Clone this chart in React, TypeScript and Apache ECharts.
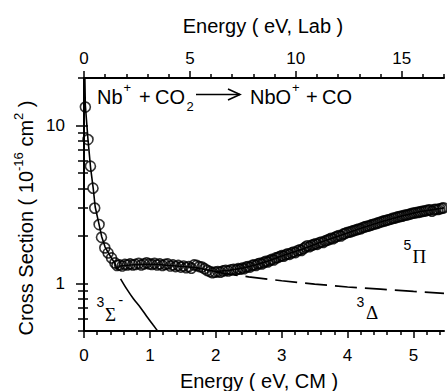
import React, { useEffect, useRef } from 'react';
import * as echarts from 'echarts';

// ---------- data ----------
const X_MAX_CM = 5.463; // bottom axis (eV, CM)
const X_MAX_LAB = 17; // top axis (eV, Lab)
const Y_MIN = 0.5;
const Y_MAX = 20;

const bottomMajor = [0, 1, 2, 3, 4, 5];
const bottomMinor = [0.2, 0.4, 0.6, 0.8, 1.2, 1.4, 1.6, 1.8, 2.2, 2.4, 2.6, 2.8, 3.2, 3.4, 3.6, 3.8, 4.2, 4.4, 4.6, 4.8, 5.2, 5.4];
const topMajor = [0, 5, 10, 15];
const topMinor = [1, 2, 3, 4, 6, 7, 8, 9, 11, 12, 13, 14, 16, 17];
const yMajor = [1, 10];
const yMinor = [0.5, 0.6, 0.7, 0.8, 0.9, 2, 3, 4, 5, 6, 7, 8, 9, 20];

// steep threshold region + plateau
const energyLow = [
  0.021, 0.061, 0.098, 0.137, 0.163, 0.229, 0.265, 0.316, 0.366, 0.418, 0.469,
  0.50, 0.54, 0.58, 0.62, 0.66, 0.70, 0.74, 0.78, 0.83, 0.87, 0.91, 0.95, 0.99,
  1.03, 1.07, 1.11, 1.15, 1.19, 1.23, 1.27, 1.31, 1.35, 1.39, 1.43, 1.47, 1.51,
  1.55, 1.59, 1.63, 1.67, 1.71, 1.75, 1.79, 1.83, 1.87, 1.91, 1.95, 1.99, 2.03,
  2.07, 2.11, 2.15, 2.19, 2.23, 2.27, 2.31, 2.34,
];
const sigmaLow = [
  13.1, 8.15, 5.53, 4.01, 3.0, 2.36, 1.96, 1.68, 1.56, 1.45, 1.35,
  1.30, 1.31, 1.29, 1.32, 1.31, 1.33, 1.31, 1.32, 1.34, 1.31, 1.33, 1.35, 1.33,
  1.32, 1.34, 1.31, 1.33, 1.30, 1.32, 1.33, 1.29, 1.31, 1.28, 1.30, 1.27, 1.29,
  1.26, 1.28, 1.25, 1.31, 1.30, 1.28, 1.27, 1.24, 1.21, 1.19, 1.17, 1.18, 1.19,
  1.18, 1.20, 1.21, 1.20, 1.22, 1.23, 1.22, 1.24,
];
// rising region
const energyHigh = [
  2.37, 2.40, 2.43, 2.46, 2.49, 2.52, 2.55, 2.58, 2.61, 2.64, 2.67, 2.70, 2.73,
  2.76, 2.79, 2.82, 2.85, 2.88, 2.91, 2.94, 2.97, 3.00, 3.03, 3.06, 3.09, 3.12,
  3.15, 3.18, 3.21, 3.24, 3.27, 3.30, 3.33, 3.36, 3.39, 3.42, 3.45, 3.48, 3.51,
  3.54, 3.57, 3.60, 3.63, 3.66, 3.69, 3.72, 3.75, 3.78, 3.81, 3.84, 3.87, 3.90,
  3.93, 3.96, 3.99, 4.02, 4.05, 4.08, 4.11, 4.14, 4.17, 4.20, 4.23, 4.26, 4.29,
  4.32, 4.35, 4.38, 4.41, 4.44, 4.47, 4.50, 4.53, 4.56, 4.59, 4.62, 4.65, 4.68,
  4.71, 4.74, 4.77, 4.80, 4.83, 4.86, 4.89, 4.92, 4.95, 4.98, 5.01, 5.04, 5.07,
  5.10, 5.13, 5.16, 5.19, 5.22, 5.25, 5.28, 5.31, 5.34, 5.37, 5.40, 5.43, 5.455,
];
const sigmaHigh = [
  1.23, 1.25, 1.24, 1.27, 1.28, 1.27, 1.30, 1.31, 1.30, 1.33, 1.34, 1.33, 1.36,
  1.38, 1.37, 1.40, 1.42, 1.41, 1.45, 1.46, 1.48, 1.50, 1.49, 1.52, 1.54, 1.53,
  1.56, 1.58, 1.57, 1.61, 1.63, 1.62, 1.66, 1.70, 1.73, 1.71, 1.74, 1.76, 1.78,
  1.77, 1.81, 1.83, 1.82, 1.86, 1.88, 1.90, 1.93, 1.92, 1.96, 1.99, 2.01, 2.00,
  2.05, 2.07, 2.10, 2.11, 2.13, 2.15, 2.17, 2.19, 2.21, 2.22, 2.26, 2.28, 2.30,
  2.31, 2.34, 2.36, 2.38, 2.40, 2.42, 2.45, 2.47, 2.49, 2.51, 2.53, 2.55, 2.58,
  2.59, 2.62, 2.64, 2.66, 2.67, 2.70, 2.71, 2.73, 2.75, 2.78, 2.79, 2.81, 2.82,
  2.84, 2.86, 2.87, 2.89, 2.91, 2.92, 2.87, 2.93, 2.95, 2.94, 2.97, 2.99, 3.01,
];

const fitX = [0.012, 0.02, 0.06, 0.10, 0.14, 0.17, 0.23, 0.27, 0.32, 0.37, 0.42, 0.47, 0.50, 0.55, 0.7, 0.9, 1.1, 1.3, 1.5, 1.7, 1.9, 2.0, 2.2, 2.4, 2.6, 2.8, 3.0, 3.3, 3.6, 3.9, 4.2, 4.5, 4.8, 5.1, 5.463];
const fitY = [21, 13.5, 8.2, 5.4, 4.0, 3.05, 2.35, 1.97, 1.7, 1.56, 1.44, 1.34, 1.23, 1.29, 1.31, 1.32, 1.32, 1.30, 1.28, 1.26, 1.21, 1.19, 1.21, 1.25, 1.31, 1.39, 1.49, 1.64, 1.83, 2.02, 2.24, 2.45, 2.66, 2.85, 3.01];

const deltaX = [2.0, 2.5, 3.0, 3.5, 4.0, 4.5, 5.0, 5.463];
const deltaY = [1.18, 1.10, 1.04, 0.99, 0.95, 0.92, 0.89, 0.865];

const sigmaStateX = [0.555, 0.65, 0.75, 0.85, 0.95, 1.05, 1.15];
const sigmaStateY = [1.07, 0.92, 0.80, 0.71, 0.62, 0.545, 0.48];

// ---------- helpers ----------
const SANS = '"Liberation Sans", Arial, Helvetica, sans-serif';
const SERIF = '"Liberation Serif", "Times New Roman", serif';

let ctx: CanvasRenderingContext2D | null = null;
function measure(t: string, size: number, fam: string) {
  if (!ctx) ctx = document.createElement('canvas').getContext('2d');
  if (!ctx) return t.length * size * 0.55;
  ctx.font = `${size}px ${fam}`;
  return ctx.measureText(t).width;
}

function txt(t: string, x: number, y: number, size: number, fam = SANS, align = 'left') {
  return {
    type: 'text',
    x,
    y,
    silent: true,
    style: { text: t, fontSize: size, fontFamily: fam, fill: '#000', align, verticalAlign: 'middle' },
  };
}

type Piece = { t: string; s: number; dy?: number; dx?: number };
function run(pieces: Piece[], x0: number, y0: number) {
  let x = x0;
  const els: any[] = [];
  for (const p of pieces) {
    x += p.dx || 0;
    els.push(txt(p.t, x, y0 + (p.dy || 0), p.s));
    x += measure(p.t, p.s, SANS);
  }
  return { els, width: x - x0 };
}

function zip(a: number[], b: number[]) {
  return a.map((v, i) => [v, b[i]]);
}

export default function App() {
  const ref = useRef<HTMLDivElement>(null);

  useEffect(() => {
    document.body.style.margin = '0';
    if (!ref.current) return;
    const chart = echarts.init(ref.current, undefined, { renderer: 'svg' });

    const axisLine = { show: true, lineStyle: { color: '#000', width: 2 } };
    const labelStyle = { color: '#000', fontSize: 17, fontFamily: SANS };

    // y-axis title, rotated
    const yTitle = run(
      [
        { t: 'Cross Section ( 10', s: 20 },
        { t: '-16', s: 13, dy: -8 },
        { t: ' cm', s: 20 },
        { t: '2', s: 13, dy: -8 },
        { t: ' )', s: 20 },
      ],
      0,
      0
    );
    const yTitleCenter = 218;

    const graphic: any[] = [
      // reaction
      txt('Nb', 97, 97, 20),
      txt('+', 123.5, 87, 13),
      txt('+', 139, 97, 20),
      txt('CO', 155, 97, 20),
      txt('2', 186.5, 106, 13),
      { type: 'line', silent: true, shape: { x1: 196, y1: 94.5, x2: 240, y2: 94.5 }, style: { stroke: '#000', lineWidth: 1.6 } },
      { type: 'polyline', silent: true, shape: { points: [[228, 89], [240, 94.5], [228, 100]] }, style: { stroke: '#000', lineWidth: 1.6, fill: 'none' } },
      txt('NbO', 250, 97, 20),
      txt('+', 292, 87, 13),
      txt('+', 306, 97, 20),
      txt('CO', 322, 97, 20),
      // state labels
      txt('3', 96.5, 302, 14),
      txt('Σ', 105, 314, 19, SERIF),
      txt('-', 118.5, 300, 14),
      txt('3', 356.5, 302, 14),
      txt('Δ', 366, 312, 19, SERIF),
      txt('5', 403.5, 245, 14),
      txt('Π', 412.5, 256, 19, SERIF),
      // axis titles
      txt('Energy ( eV, Lab )', 263, 26, 20, SANS, 'center'),
      txt('Energy ( eV, CM )', 259, 381, 20, SANS, 'center'),
      {
        type: 'group',
        x: 26,
        y: yTitleCenter + yTitle.width / 2,
        rotation: Math.PI / 2,
        children: yTitle.els,
      },
    ];

    chart.setOption({
      animation: false,
      grid: { left: 84, right: 3, top: 78, bottom: 60, containLabel: false },
      xAxis: [
        {
          type: 'value', position: 'bottom', min: 0, max: X_MAX_CM,
          axisLine,
          axisTick: { show: true, customValues: bottomMajor, length: 7, lineStyle: { color: '#000', width: 1.5 } },
          axisLabel: { ...labelStyle, customValues: bottomMajor, margin: 16 },
          splitLine: { show: false },
        },
        {
          type: 'value', position: 'bottom', min: 0, max: X_MAX_CM,
          axisLine: { show: false },
          axisTick: { show: true, customValues: bottomMinor, length: 4, lineStyle: { color: '#000', width: 1.5 } },
          axisLabel: { show: false },
          splitLine: { show: false },
        },
        {
          type: 'value', position: 'top', min: 0, max: X_MAX_LAB,
          axisLine,
          axisTick: { show: true, customValues: topMajor, length: 7, lineStyle: { color: '#000', width: 1.5 } },
          axisLabel: { ...labelStyle, customValues: topMajor, margin: 11 },
          splitLine: { show: false },
        },
        {
          type: 'value', position: 'top', min: 0, max: X_MAX_LAB,
          axisLine: { show: false },
          axisTick: { show: true, customValues: topMinor, length: 4, lineStyle: { color: '#000', width: 1.5 } },
          axisLabel: { show: false },
          splitLine: { show: false },
        },
      ],
      yAxis: [
        {
          type: 'log', logBase: 10, position: 'left', min: Y_MIN, max: Y_MAX,
          axisLine,
          axisTick: { show: true, customValues: yMajor, length: 8, lineStyle: { color: '#000', width: 1.5 } },
          axisLabel: { ...labelStyle, customValues: yMajor, margin: 19 },
          splitLine: { show: false },
          minorTick: { show: false },
        },
        {
          type: 'log', logBase: 10, position: 'left', min: Y_MIN, max: Y_MAX,
          axisLine: { show: false },
          axisTick: { show: true, customValues: yMinor, length: 6, lineStyle: { color: '#000', width: 1.5 } },
          axisLabel: { show: false },
          splitLine: { show: false },
        },
        {
          type: 'log', logBase: 10, position: 'right', min: Y_MIN, max: Y_MAX,
          axisLine,
          axisTick: { show: true, customValues: [...yMajor, ...yMinor], length: 4, lineStyle: { color: '#000', width: 1.5 } },
          axisLabel: { show: false },
          splitLine: { show: false },
        },
      ],
      graphic,
      series: [
        {
          type: 'line', name: 'fit', xAxisIndex: 0, yAxisIndex: 0,
          data: zip(fitX, fitY), showSymbol: false, symbol: 'none', clip: true,
          lineStyle: { color: '#000', width: 1.6 }, z: 2, silent: true,
        },
        {
          type: 'line', name: '3Delta', xAxisIndex: 0, yAxisIndex: 0,
          data: zip(deltaX, deltaY), showSymbol: false, symbol: 'none', clip: true,
          lineStyle: { color: '#000', width: 1.7, type: [22, 8] }, z: 2, silent: true,
        },
        {
          type: 'line', name: '3Sigma', xAxisIndex: 0, yAxisIndex: 0,
          data: zip(sigmaStateX, sigmaStateY), showSymbol: false, symbol: 'none', clip: true, smooth: 0.3,
          lineStyle: { color: '#000', width: 1.6 }, z: 2, silent: true,
        },
        {
          type: 'scatter', name: 'data', xAxisIndex: 0, yAxisIndex: 0,
          data: [...zip(energyLow, sigmaLow), ...zip(energyHigh, sigmaHigh)],
          symbol: 'circle', symbolSize: 10,
          itemStyle: { color: 'rgba(255,255,255,0)', borderColor: '#000', borderWidth: 1.6 },
          z: 3, silent: true,
        },
      ],
    });

    return () => chart.dispose();
  }, []);

  return <div ref={ref} style={{ width: 447, height: 391 }} />;
}
